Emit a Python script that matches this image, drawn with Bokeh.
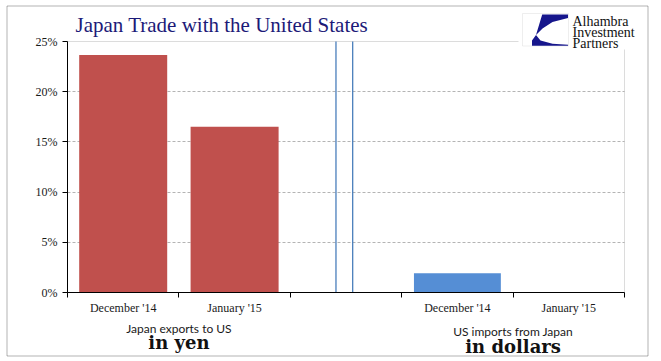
from bokeh.plotting import figure
from bokeh.models import (Range1d, FixedTicker, PrintfTickFormatter, Label,
                          BoxAnnotation, PolyAnnotation)
from bokeh.embed import file_html
from bokeh.resources import INLINE

# ---- data ----
categories = ["December '14", "January '15", "", "December '14", "January '15"]
exports_yen = [23.66, 16.5]      # Japan exports to US (% y/y, in yen)
imports_usd = [1.92, 0.0]        # US imports from Japan (% y/y, in dollars)
group_names = ["Japan exports to US", "US imports from Japan"]
group_units = ["in yen", "in dollars"]
y_ticks = [0, 5, 10, 15, 20, 25]
title_text = "Japan Trade with the United States"
logo_lines = ["Alhambra", "Investment", "Partners"]

# ---- geometry (page pixels of the inner plot area) ----
W, H = 652, 358
PX0, PX1 = 67, 624      # x of category axis start / end
PY0, PY1 = 292, 41      # y of 0% / 25%
NX = len(categories)
YMAX = y_ticks[-1]
BASE_FIX = 0.3          # empirical em-shift for alphabetic baseline


def dx(px):  # page pixel x -> data x (decorations only)
    return (px - PX0) / (PX1 - PX0) * NX


def dy(py):  # page pixel y -> data y (decorations only)
    return (PY0 - py) / (PY0 - PY1) * YMAX


def base(py, size):
    return dy(py - BASE_FIX * size)


p = figure(width=W, height=H, output_backend="svg", toolbar_location=None,
           title=None, x_range=Range1d(dx(0), dx(W)), y_range=Range1d(dy(H), dy(0)),
           min_border=0, background_fill_color="white", border_fill_color="white")
p.outline_line_color = None

# plot-area box (top / right gray lines)
p.add_layout(BoxAnnotation(left=0, right=NX, bottom=0, top=YMAX, fill_color=None,
                           fill_alpha=0, line_color="#8C8C8C", line_width=1,
                           level="underlay"))

# grid
p.xgrid.visible = False
g = p.ygrid[0]
g.ticker = FixedTicker(ticks=y_ticks[1:-1])
g.grid_line_color = "#B4B4B4"
g.grid_line_dash = "3 2"
try:
    g.cross_bounds = (0, NX)
except AttributeError:
    g.visible = False
    p.segment(x0=0, x1=NX, y0=y_ticks[1:-1], y1=y_ticks[1:-1],
              line_color="#B4B4B4", line_dash="3 2", level="underlay")

# bars
x_yen = [i + 0.5 for i in range(len(exports_yen))]
x_usd = [3 + i + 0.5 for i in range(len(imports_usd))]
p.vbar(x=x_yen, top=exports_yen, width=0.79, bottom=0,
       fill_color="#C0504D", line_color=None)
p.vbar(x=x_usd, top=imports_usd, width=0.78, bottom=0,
       fill_color="#558ED5", line_color=None)

# axis break lines
brk = [2.41, 2.56]
p.segment(x0=brk, x1=brk, y0=0, y1=YMAX, line_color="#4A7EBB", line_width=1.3)

# x axis
xa = p.xaxis[0]
xa.fixed_location = 0
xa.bounds = (0, NX)
xa.ticker = FixedTicker(ticks=[i + 0.5 for i, c in enumerate(categories) if c],
                        minor_ticks=list(range(NX + 1)))
xa.major_label_overrides = {i + 0.5: c for i, c in enumerate(categories) if c}
xa.major_tick_out = 0
xa.major_tick_in = 0
xa.minor_tick_out = 5
xa.minor_tick_in = 0
xa.minor_tick_line_color = "black"
xa.axis_line_color = "black"
xa.major_label_text_font = "Liberation Serif"
xa.major_label_text_font_size = "12px"
xa.major_label_text_color = "#1a1a1a"
xa.major_label_standoff = 3

# y axis
ya = p.yaxis[0]
ya.fixed_location = 0
ya.bounds = (0, YMAX)
ya.ticker = FixedTicker(ticks=y_ticks)
ya.formatter = PrintfTickFormatter(format="%d%%")
ya.major_tick_out = 5
ya.major_tick_in = 0
ya.minor_tick_line_color = None
ya.axis_line_color = "black"
ya.major_tick_line_color = "black"
ya.major_label_text_font = "Liberation Serif"
ya.major_label_text_font_size = "12px"
ya.major_label_text_color = "#1a1a1a"
ya.major_label_standoff = 5

# title
p.add_layout(Label(x=dx(75), y=base(31, 21), text=title_text, text_font="Liberation Serif",
                   text_font_size="21px", text_color="#1C1A78",
                   text_baseline="alphabetic"))

# group labels
group_centers = [1.0, 4.0]
name_base = [331.8, 334.5]
unit_base = [347.3, 351.7]
for gc, nm, un, nb, ub in zip(group_centers, group_names, group_units, name_base, unit_base):
    p.add_layout(Label(x=gc, y=base(nb, 12), text=nm, text_font="Lato",
                       text_font_size="12px", text_color="#1a1a1a", text_align="center",
                       text_baseline="alphabetic"))
    p.add_layout(Label(x=gc, y=base(ub, 18), text=un, text_font="DejaVu Serif",
                       text_font_style="bold", text_font_size="18px",
                       text_color="#111111", text_align="center",
                       text_baseline="alphabetic"))

# logo
p.add_layout(BoxAnnotation(left=dx(518), right=dx(646), top=dy(8), bottom=dy(49),
                           fill_color="white", fill_alpha=1, line_color=None))
p.add_layout(BoxAnnotation(left=dx(522), right=dx(568), top=dy(13), bottom=dy(45.5),
                           fill_color="white", fill_alpha=1, line_color="#C8C8C8",
                           line_width=1))
shape_a = [(541.7, 14), (567.5, 14), (567.5, 17.5), (552, 21.5), (542, 28), (535.5, 34.5)]
shape_b = [(535.5, 34.5), (540, 40), (552, 43.3), (567.5, 44.2), (567.5, 45.3),
           (531.5, 45.3), (531.5, 40)]
for shp in (shape_a, shape_b):
    p.add_layout(PolyAnnotation(xs=[dx(a) for a, b in shp], ys=[dy(b) for a, b in shp],
                                fill_color="#16168C", fill_alpha=1, line_color=None))
for line, bl in zip(logo_lines, [25.3, 36.3, 47.3]):
    p.add_layout(Label(x=dx(572), y=base(bl, 14), text=line, text_font="Liberation Serif",
                       text_font_size="14px", text_color="#111111",
                       text_baseline="alphabetic"))

# outer border
p.add_layout(BoxAnnotation(left=dx(6.5), right=dx(647.5), top=dy(5.5), bottom=dy(355.5),
                           fill_color=None, fill_alpha=0, line_color="black",
                           line_width=1))

open("out.html", "w").write(file_html(p, INLINE))
